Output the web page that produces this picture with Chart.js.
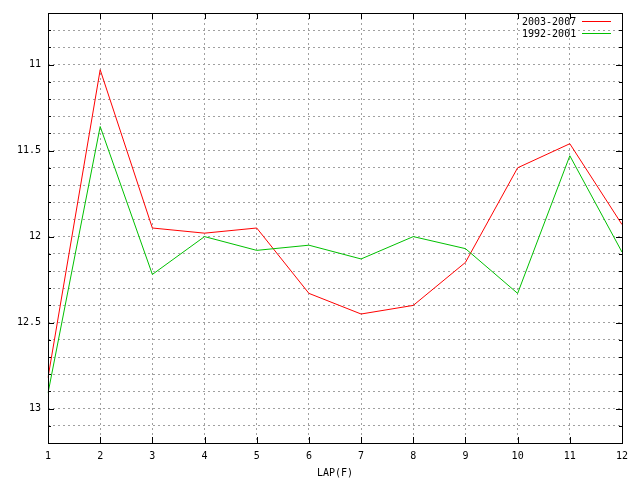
<!DOCTYPE html>
<html>
<head>
<meta charset="utf-8">
<script src="https://cdn.jsdelivr.net/npm/chart.js@4/dist/chart.umd.min.js"></script>
<style>
  body { margin: 0; background: #fff; }
  #wrap { width: 640px; height: 480px; }
</style>
</head>
<body>
<div id="wrap"><canvas id="lapChart" width="640" height="480"></canvas></div>
<script>
// Lap numbers and times
const laps = ['1', '2', '3', '4', '5', '6', '7', '8', '9', '10', '11', '12'];
const series2003 = [12.82, 11.03, 11.95, 11.98, 11.95, 12.33, 12.45, 12.40, 12.15, 11.60, 11.46, 11.93];
const series1992 = [12.91, 11.36, 12.22, 12.00, 12.08, 12.05, 12.13, 12.00, 12.07, 12.33, 11.53, 12.09];
const seriesNames = ['2003-2007', '1992-2001'];
const seriesColors = ['#ff0000', '#00c000'];

const monoFont = { family: 'DejaVu Sans Mono', size: 10 };

// frame, inward ticks and the gnuplot style key
const framePlugin = {
    id: 'frame',
    afterDatasetsDraw(chart) {
        const ctx = chart.ctx;
        const area = chart.chartArea;
        const xs = chart.scales.x;
        const ys = chart.scales.y;
        ctx.save();
        ctx.strokeStyle = '#000';
        ctx.lineWidth = 1;
        ctx.beginPath();
        ys.ticks.forEach(t => {
            const y = Math.round(ys.getPixelForValue(t.value)) + 0.5;
            const len = t.label !== '' ? 6 : 3;
            ctx.moveTo(area.left, y); ctx.lineTo(area.left + len, y);
            ctx.moveTo(area.right, y); ctx.lineTo(area.right - len, y);
        });
        laps.forEach((l, i) => {
            const x = Math.round(xs.getPixelForValue(i)) + 0.5;
            ctx.moveTo(x, area.bottom); ctx.lineTo(x, area.bottom - 6);
            ctx.moveTo(x, area.top); ctx.lineTo(x, area.top + 6);
        });
        ctx.stroke();
        ctx.strokeRect(area.left + 0.5, area.top + 0.5, area.right - area.left, area.bottom - area.top);

        // key
        ctx.font = '10px "DejaVu Sans Mono"';
        ctx.textAlign = 'left';
        ctx.textBaseline = 'middle';
        seriesNames.forEach((name, i) => {
            const y = 22 + i * 12;
            ctx.fillStyle = '#000';
            ctx.fillText(name, 522, y);
            ctx.fillStyle = seriesColors[i];
            ctx.fillRect(582, y - 1, 29, 1);
        });
        ctx.restore();
    }
};

new Chart(document.getElementById('lapChart'), {
    type: 'line',
    data: {
        labels: laps,
        datasets: [{
            label: seriesNames[0],
            data: series2003,
            borderColor: seriesColors[0],
            borderWidth: 1,
            pointRadius: 0,
            tension: 0,
            fill: false,
            order: 2
        }, {
            label: seriesNames[1],
            data: series1992,
            borderColor: seriesColors[1],
            borderWidth: 1,
            pointRadius: 0,
            tension: 0,
            fill: false,
            order: 1
        }]
    },
    options: {
        responsive: false,
        animation: false,
        layout: { padding: { top: 11, right: 18, left: 0, bottom: 0 } },
        plugins: {
            legend: { display: false },
            tooltip: { enabled: false }
        },
        scales: {
            x: {
                offset: false,
                grid: { color: '#a0a0a0', drawTicks: false },
                border: { display: false, dash: [2, 3] },
                ticks: { color: '#000', font: monoFont, padding: 7, autoSkip: false, maxRotation: 0 },
                title: { display: true, text: 'LAP(F)', color: '#000', font: monoFont, padding: { top: 0, bottom: 1 } },
                afterFit(scale) { scale.height = 37; }
            },
            y: {
                reverse: true,
                min: 10.7,
                max: 13.2,
                grid: { color: '#a0a0a0', drawTicks: false },
                border: { display: false, dash: [2, 3] },
                ticks: {
                    stepSize: 0.1,
                    maxTicksLimit: 100,
                    autoSkip: false,
                    color: '#000',
                    font: monoFont,
                    padding: 7,
                    callback(value) {
                        const v = Math.round(value * 10) / 10;
                        return Math.abs(v * 2 - Math.round(v * 2)) < 1e-6 ? String(v) : '';
                    }
                },
                afterFit(scale) { scale.width = 48; }
            }
        }
    },
    plugins: [framePlugin]
});
</script>
</body>
</html>
